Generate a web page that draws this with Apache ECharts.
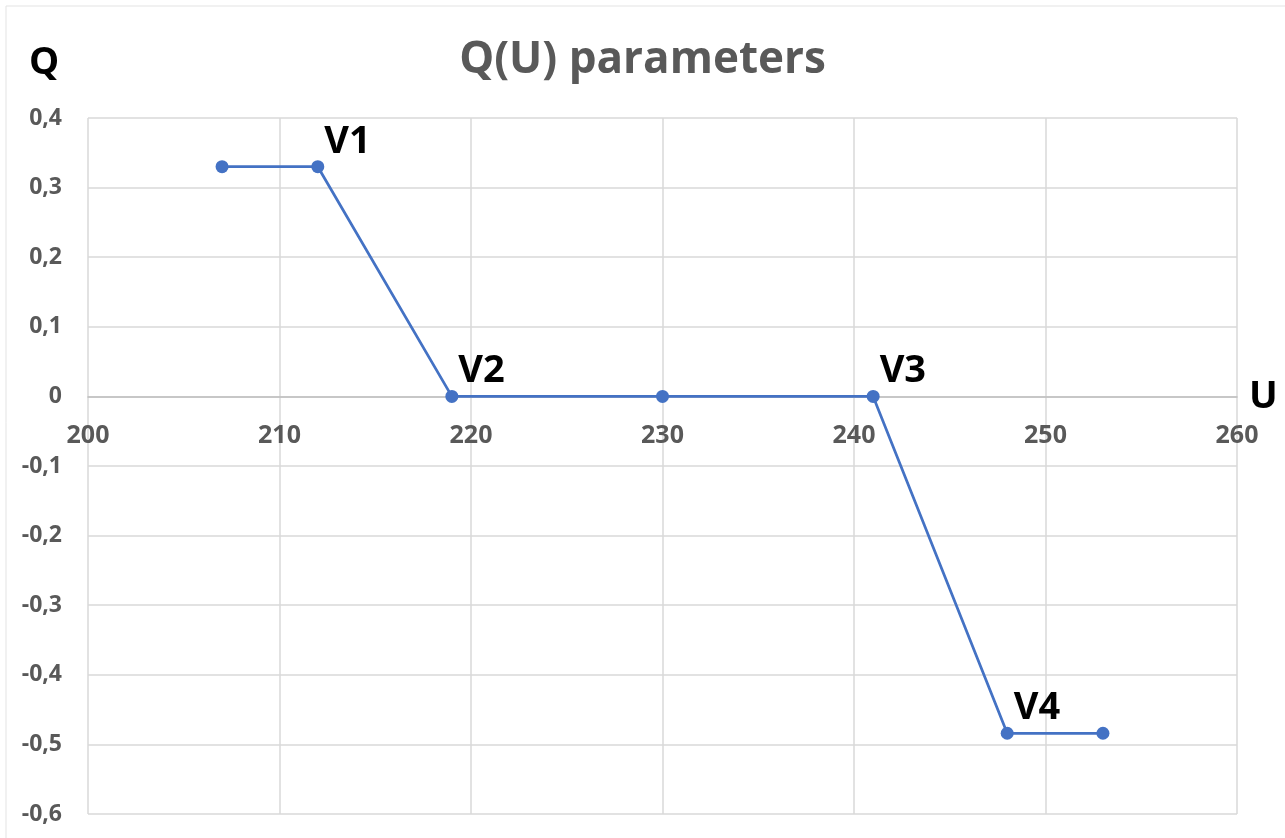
<!DOCTYPE html>
<html>
<head>
<meta charset="utf-8">
<title>Q(U) parameters</title>
<script src="https://cdn.jsdelivr.net/npm/echarts@6/dist/echarts.min.js"></script>
<style>
	html, body { margin: 0; padding: 0; background: #fff; }
	#chart { width: 1285px; height: 838px; }
</style>
</head>
<body>
<div id="chart"></div>
<script>
"use strict";

// voltage (U) and reactive power (Q) of the curve points
const uValues = [207, 212, 219, 230, 241, 248, 253];
const qValues = [0.33, 0.33, 0, 0, 0, -0.484, -0.484];
// named breakpoints, empty = no label
const pointNames = ["", "V1", "V2", "", "V3", "V4", ""];

const xTicks = { min: 200, max: 260, interval: 10 };
const yTicks = { min: -0.6, max: 0.4, interval: 0.1 };

const font = "'Open Sans', 'Noto Sans', sans-serif";
const gray = "#595959";

const gridTop = 118;
const gridBottom = 24;
const plotHeight = 838 - gridTop - gridBottom;
// move the x axis up to Q = 0
const zeroOffset = -plotHeight * (0 - yTicks.min) / (yTicks.max - yTicks.min);

const fmtQ = (v) => {
	if (Math.abs(v) < 1e-9)
		return "0";
	return v.toFixed(1).replace(".", ",");
}

const data = uValues.map((u, i) => {
	const item = { value: [u, qValues[i]] };
	if (pointNames[i]) {
		item.label = { show: true, formatter: pointNames[i] };
	}
	return item;
});

const chart = echarts.init(document.getElementById("chart"));
chart.setOption({
	animation: false,
	backgroundColor: "#fff",
	title: {
		text: "Q(U) parameters",
		left: "center",
		top: 33,
		textStyle: { fontFamily: font, fontSize: 44, fontWeight: "bold", color: gray }
	},
	graphic: [
		{
			type: "rect",
			shape: { x: 6, y: 6, width: 1290, height: 840 },
			style: { fill: null, stroke: "#e3e3e3", lineWidth: 1 },
			silent: true
		},
		{
			type: "text",
			left: 29, top: 44,
			style: { text: "Q", fontFamily: font, fontSize: 38, fontWeight: "bold", fill: "#000" }
		},
		{
			type: "text",
			left: 1249, top: 378,
			style: { text: "U", fontFamily: font, fontSize: 38, fontWeight: "bold", fill: "#000" }
		}
	],
	grid: { left: 88, right: 48, top: gridTop, bottom: gridBottom, containLabel: false },
	xAxis: {
		type: "value",
		min: xTicks.min,
		max: xTicks.max,
		interval: xTicks.interval,
		offset: zeroOffset,
		axisLine: { onZero: false, lineStyle: { color: "#bfbfbf", width: 1.5 } },
		axisTick: { show: false },
		axisLabel: {
			margin: 27, color: gray, fontFamily: font, fontSize: 25, fontWeight: "bold",
			showMinLabel: true, showMaxLabel: true
		},
		splitLine: { show: true, lineStyle: { color: "#d9d9d9", width: 1.5 } }
	},
	yAxis: {
		type: "value",
		min: yTicks.min,
		max: yTicks.max,
		interval: yTicks.interval,
		axisLine: { show: false },
		axisTick: { show: false },
		axisLabel: {
			margin: 26, color: gray, fontFamily: font, fontSize: 23, fontWeight: "bold",
			formatter: fmtQ
		},
		splitLine: { show: true, lineStyle: { color: "#d9d9d9", width: 1.5 } }
	},
	series: [{
		type: "line",
		data: data,
		symbol: "circle",
		symbolSize: 13,
		showAllSymbol: true,
		lineStyle: { color: "#4472C4", width: 2.75 },
		itemStyle: { color: "#4472C4" },
		label: {
			show: false,
			position: "right",
			distance: 0,
			offset: [0, -25],
			color: "#000",
			fontFamily: font,
			fontSize: 38,
			fontWeight: "bold"
		}
	}]
});
</script>
</body>
</html>
